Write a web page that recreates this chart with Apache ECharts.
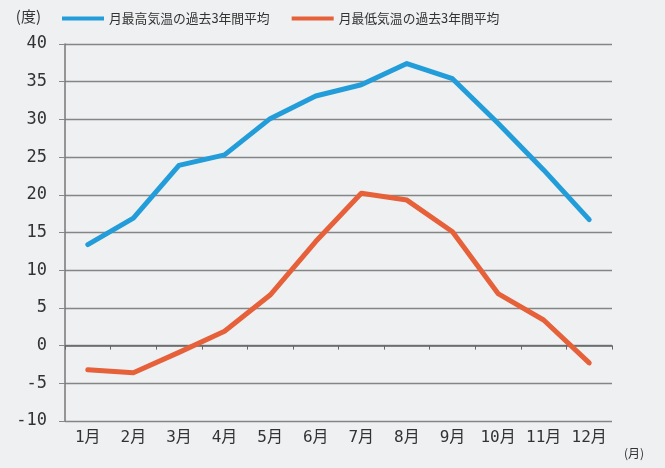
<!DOCTYPE html>
<html>
<head>
<meta charset="utf-8">
<script src="https://cdn.jsdelivr.net/npm/echarts@6/dist/echarts.min.js"></script>
<style>
  html, body { margin: 0; padding: 0; background: #eef0f2; }
  #chart { width: 665px; height: 468px; }
</style>
</head>
<body>
<div id="chart"></div>
<script>
// 月別の気温（過去3年間平均）
const months = ['1月', '2月', '3月', '4月', '5月', '6月', '7月', '8月', '9月', '10月', '11月', '12月'];
const highTemps = [13.4, 16.9, 23.9, 25.3, 30.1, 33.1, 34.6, 37.4, 35.4, 29.5, 23.3, 16.7];
const lowTemps = [-3.2, -3.6, -0.9, 1.9, 6.7, 13.8, 20.2, 19.3, 15.1, 6.9, 3.4, -2.3];
const seriesNames = ['月最高気温の過去3年間平均', '月最低気温の過去3年間平均'];

const font = "'DejaVu Sans Mono', 'Noto Sans CJK JP', sans-serif";
const jpFont = "'Noto Sans CJK JP', sans-serif";

const myChart = echarts.init(document.getElementById('chart'));
const option = {
    backgroundColor: '#eef0f2',
    animation: false,
    legend: {
        left: 57,
        top: 7,
        icon: 'rect',
        itemWidth: 42,
        itemHeight: 4,
        itemGap: 22,
        textStyle: { fontFamily: jpFont, fontSize: 12.8, color: '#333' },
        data: seriesNames
    },
    grid: { left: 65, right: 53, top: 44, bottom: 47 },
    graphic: [
        {
            type: 'text',
            left: 624,
            top: 447,
            style: { text: '(月)', fontFamily: jpFont, fontSize: 12, fill: '#333' }
        }
    ],
    xAxis: {
        type: 'category',
        data: months,
        boundaryGap: true,
        axisLine: { lineStyle: { color: '#666', width: 1.5 } },
        axisTick: { show: true, length: 4, lineStyle: { color: '#666' } },
        axisLabel: { interval: 0, margin: 9, fontFamily: font, fontSize: 16, color: '#333' }
    },
    yAxis: {
        type: 'value',
        min: -10,
        max: 40,
        interval: 5,
        name: '(度)',
        nameLocation: 'end',
        nameGap: 20,
        nameTextStyle: { fontFamily: jpFont, fontSize: 15, color: '#333', align: 'right', padding: [0, 24, 0, 0] },
        axisLine: { show: true, lineStyle: { color: '#777', width: 1.5 } },
        axisTick: { show: true, length: 6, lineStyle: { color: '#888' } },
        axisLabel: { margin: 18, fontFamily: font, fontSize: 17, color: '#333' },
        splitLine: { lineStyle: { color: '#858585', width: 1.3 } }
    },
    series: [
        {
            name: seriesNames[0],
            type: 'line',
            data: highTemps,
            symbol: 'none',
            color: '#239dd9',
            lineStyle: { width: 5, cap: 'round', join: 'round' }
        },
        {
            name: seriesNames[1],
            type: 'line',
            data: lowTemps,
            symbol: 'none',
            color: '#e6603a',
            lineStyle: { width: 5, cap: 'round', join: 'round' }
        }
    ]
};
myChart.setOption(option);
</script>
</body>
</html>
